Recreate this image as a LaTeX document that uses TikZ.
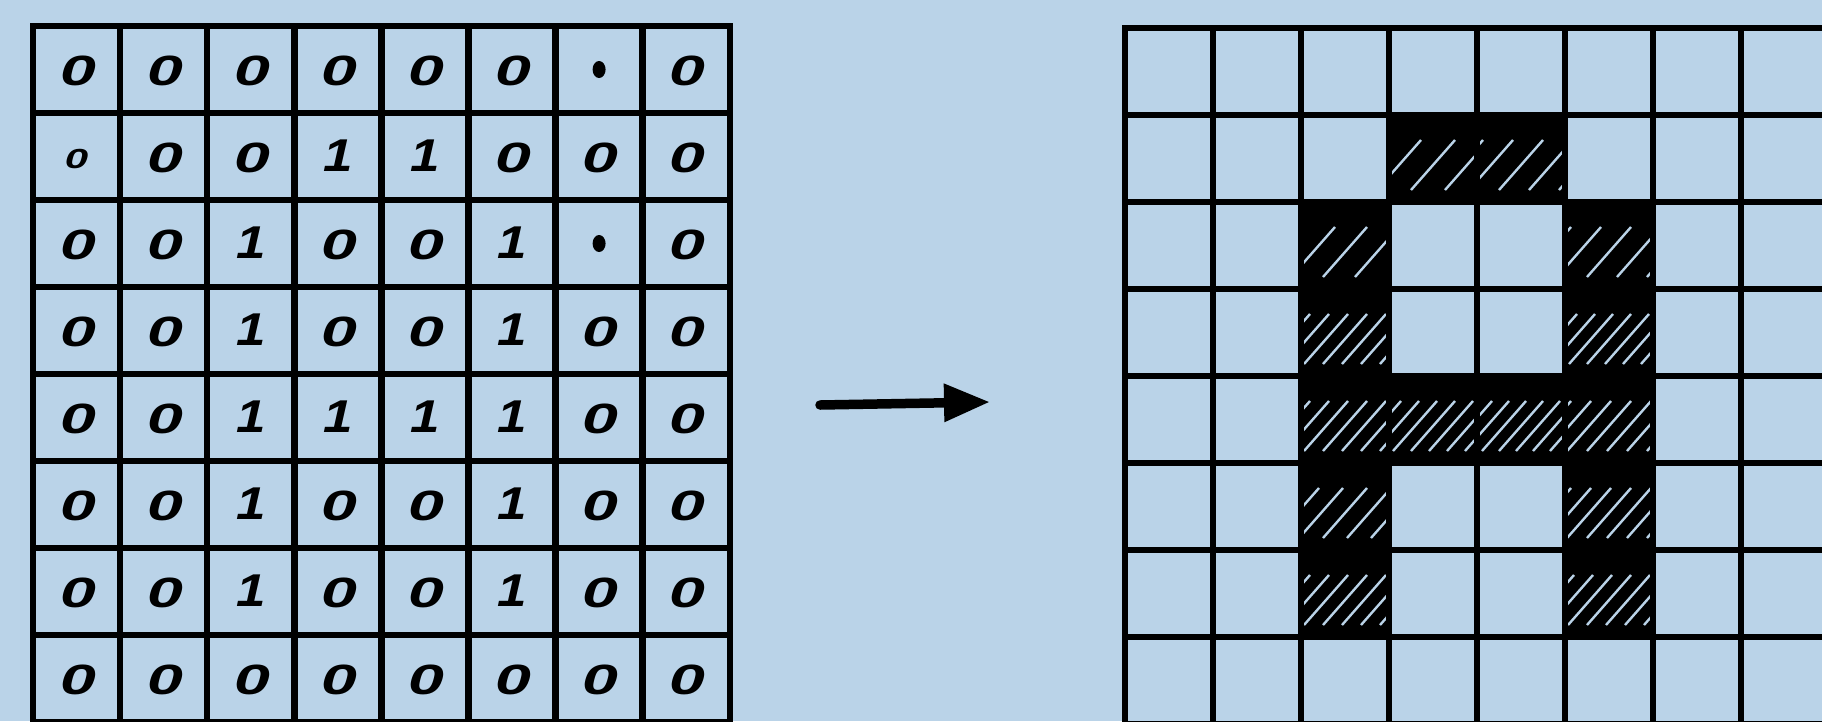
\documentclass[tikz,border=0pt]{standalone}
\usepackage{graphicx}
\usepackage{fontspec}
\setmainfont{Liberation Sans}
\usetikzlibrary{arrows.meta,shapes.geometric}
\definecolor{paper}{RGB}{186,211,232}
\newcommand{\zeroglyph}{\scalebox{1.4}[0.92]{0}}
\newcommand{\oneglyph}{\scalebox{1.15}[1.0]{1}}
\begin{document}
\begin{tikzpicture}[x=1pt,y=-1pt,
  gridline/.style={line width=6.5pt, draw=black, line cap=rect},
  digit/.style={font=\fontsize{46}{46}\selectfont\bfseries\itshape, inner sep=0pt, text=black},
  smalldigit/.style={font=\fontsize{30}{30}\selectfont\bfseries\itshape, inner sep=0pt, text=black},
  inkdot/.style={fill=black, draw=none, ellipse, minimum width=13pt, minimum height=17pt, inner sep=0pt},
  hatch/.style={draw=paper, line width=2.4pt},
  arrowline/.style={line width=9.5pt, line cap=round, draw=black, -{Triangle[length=46pt,width=36pt]}}]
\fill[paper] (0,0) rectangle (1822,721);
\useasboundingbox (0,0) rectangle (1822,721);
\clip (0,0) rectangle (1822,721);

% ---------- right grid: filled cells forming the letter ----------
\foreach \c/\r/\sp in {4/2/34,5/2/30,3/3/32,6/3/30,3/4/19,6/4/18,3/5/19,4/5/18,5/5/17,6/5/20,3/6/24,6/6/20,3/7/19,6/7/19} {
  \begin{scope}
    \clip ({1125+88*(\c-1)+3},{28+87*(\r-1)+3}) rectangle ({1125+88*\c-3},{28+87*\r-3});
    \fill[black] ({1125+88*(\c-1)},{28+87*(\r-1)}) rectangle ({1125+88*\c},{28+87*\r});
    \foreach \k in {-6,...,6}
      \draw[hatch] ({1125+88*(\c-1)+44+\k*\sp-22},{28+87*\r-12}) -- ++(44,-50);
  \end{scope}
}

% ---------- right grid lines ----------
\foreach \i in {0,...,7}
  \draw[gridline] ({1125+88*\i},28) -- ({1125+88*\i},740);
\foreach \j in {0,...,8}
  \draw[gridline] (1125,{28+87*\j}) -- (1840,{28+87*\j});

% ---------- left grid lines ----------
\foreach \i in {0,...,8}
  \draw[gridline] ({33+87.1*\i},26) -- ({33+87.1*\i},740);
\foreach \j in {0,...,8}
  \draw[gridline] (33,{26+87*\j}) -- (730,{26+87*\j});

% ---------- left grid values (2 = ink dot, 3 = small zero) ----------
\foreach \row [count=\r from 0] in {
  {0,0,0,0,0,0,2,0},
  {3,0,0,1,1,0,0,0},
  {0,0,1,0,0,1,2,0},
  {0,0,1,0,0,1,0,0},
  {0,0,1,1,1,1,0,0},
  {0,0,1,0,0,1,0,0},
  {0,0,1,0,0,1,0,0},
  {0,0,0,0,0,0,0,0}} {
  \foreach \v [count=\c from 0] in \row {
    \ifnum\v=2
      \node[inkdot] (cell-\r-\c) at ({76.5+87.1*\c},{69.5+87*\r}) {};
    \else\ifnum\v=3
      \node[smalldigit] (cell-\r-\c) at ({76.5+87.1*\c},{72+87*\r}) {\zeroglyph};
    \else\ifnum\v=1
      \node[digit] (cell-\r-\c) at ({77+87.1*\c},{69+87*\r}) {\oneglyph};
    \else
      \node[digit] (cell-\r-\c) at ({78+87.1*\c},{71+87*\r}) {\zeroglyph};
    \fi\fi\fi
  }
}

% ---------- arrow ----------
\coordinate (arrowtail) at (820,405);
\coordinate (arrowtip) at (990,402);
\draw[arrowline] (arrowtail) -- (arrowtip);
\end{tikzpicture}
\end{document}
